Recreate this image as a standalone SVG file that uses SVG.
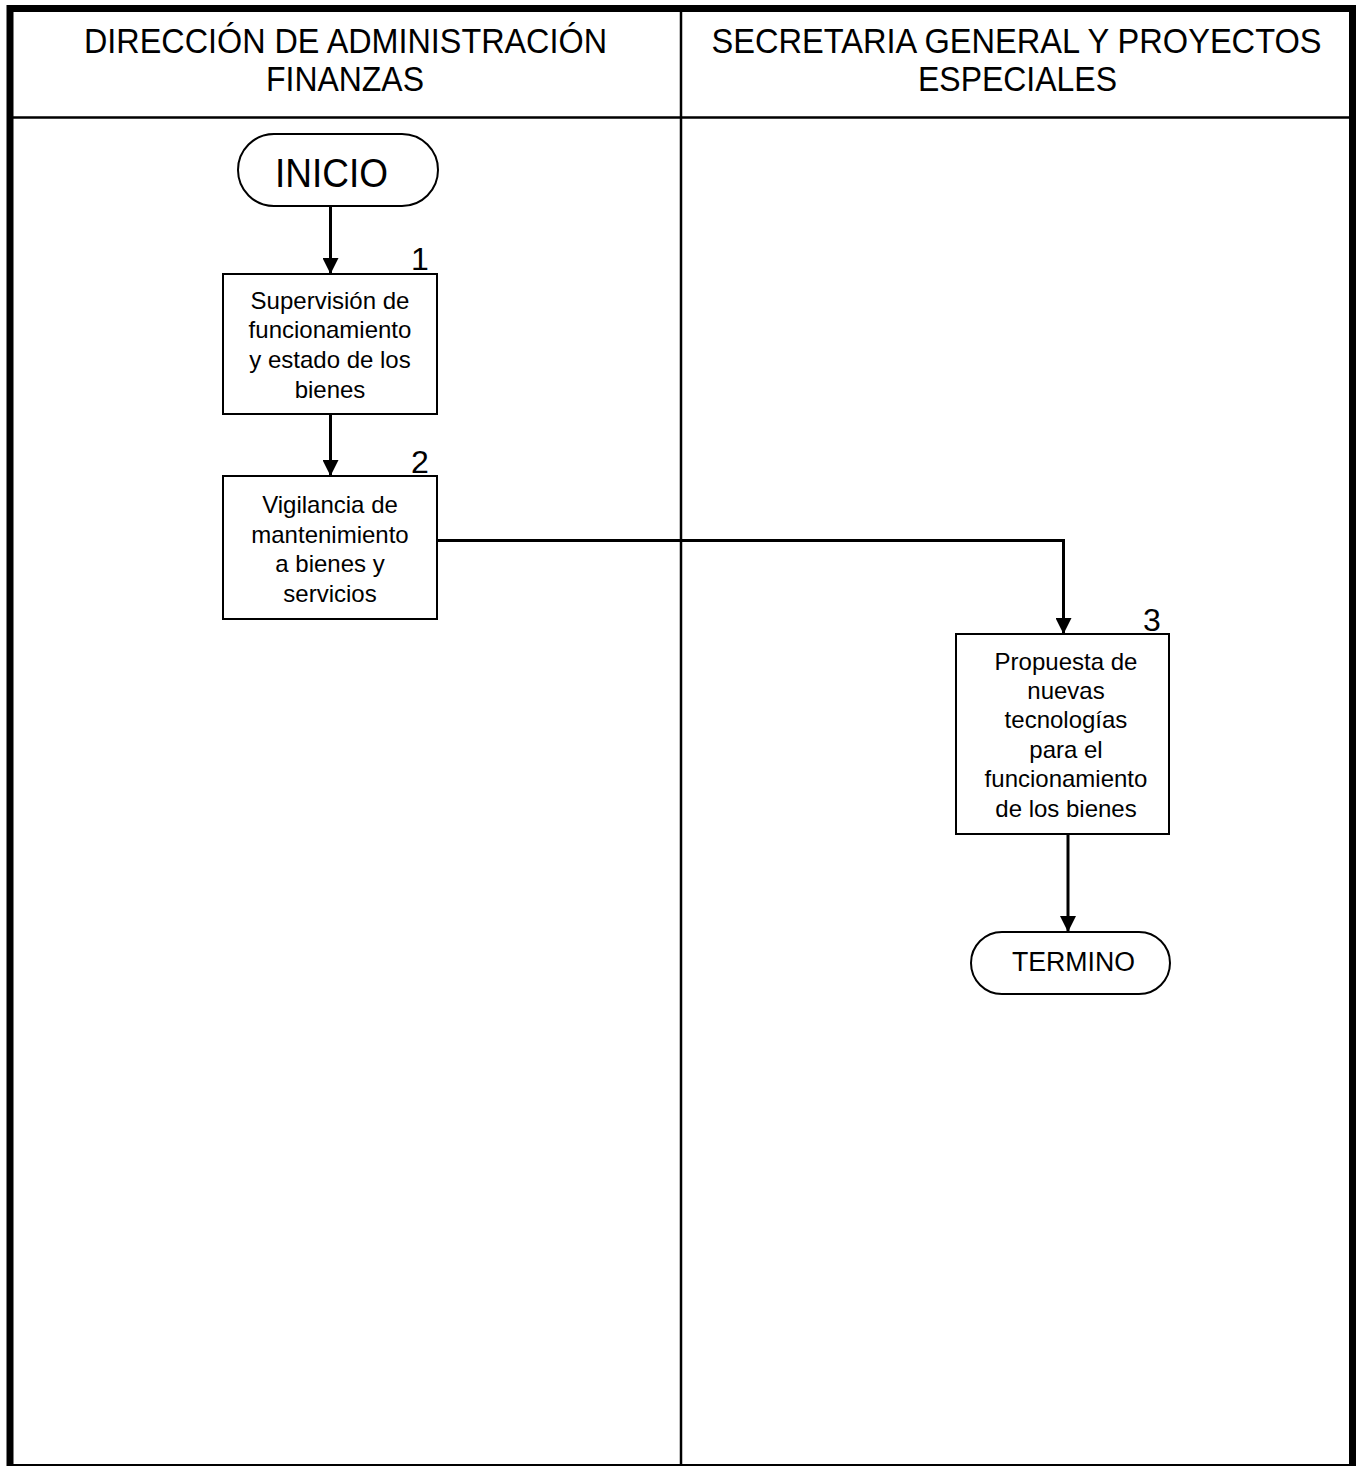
<svg xmlns="http://www.w3.org/2000/svg" width="1357" height="1466" viewBox="0 0 1357 1466">
  <style>
    .frame { fill: none; stroke: #000; }
    .box { fill: #fff; stroke: #000; stroke-width: 2; }
    .lbl { font-family: "Liberation Sans", Arial, sans-serif; fill: #000; text-anchor: middle; }
    .head { font-size: 35px; }
    .body { font-size: 24px; }
    .num { font-size: 32px; }
    .conn { fill: none; stroke: #000; stroke-width: 3; }
  </style>
  <defs>
    <marker id="arrow" markerUnits="userSpaceOnUse" markerWidth="16" markerHeight="16" viewBox="0 0 16 16" refX="16" refY="8" orient="auto">
      <path d="M0,0 L16,8 L0,16 Z" fill="#000"/>
    </marker>
  </defs>
  <rect width="1357" height="1466" fill="#fff"/>

  <!-- swimlane frame -->
  <g id="lanes">
    <rect class="frame" x="10" y="8.5" width="1342.5" height="1459" stroke-width="7"/>
    <line class="frame" x1="10" y1="117.5" x2="1352" y2="117.5" stroke-width="2.5"/>
    <line class="frame" x1="681" y1="8" x2="681" y2="1466" stroke-width="2.5"/>
    <text class="lbl head" x="345.5" y="53" textLength="523" lengthAdjust="spacingAndGlyphs">DIRECCIÓN DE ADMINISTRACIÓN</text>
    <text class="lbl head" x="345" y="91" textLength="158" lengthAdjust="spacingAndGlyphs">FINANZAS</text>
    <text class="lbl head" x="1016.5" y="53" textLength="610" lengthAdjust="spacingAndGlyphs">SECRETARIA GENERAL Y PROYECTOS</text>
    <text class="lbl head" x="1017.5" y="91" textLength="199" lengthAdjust="spacingAndGlyphs">ESPECIALES</text>
  </g>

  <!-- connectors -->
  <g id="connectors">
    <line class="conn" x1="330.5" y1="206" x2="330.5" y2="274" marker-end="url(#arrow)"/>
    <line class="conn" x1="330.5" y1="414" x2="330.5" y2="476" marker-end="url(#arrow)"/>
    <path class="conn" d="M437,540.5 H1063.5 V634" stroke-width="2.5" marker-end="url(#arrow)"/>
    <line class="conn" x1="1068" y1="834" x2="1068" y2="932" marker-end="url(#arrow)"/>
  </g>

  <g id="inicio">
    <rect class="box" x="238" y="134" width="200" height="72" rx="36" ry="36"/>
    <text class="lbl" x="331.5" y="187" font-size="40" textLength="113" lengthAdjust="spacingAndGlyphs">INICIO</text>
  </g>

  <g id="step1">
    <rect class="box" x="223" y="274" width="214" height="140"/>
    <text class="lbl num" x="420" y="270">1</text>
    <text class="lbl body" x="330" y="309">Supervisión de</text>
    <text class="lbl body" x="330" y="338">funcionamiento</text>
    <text class="lbl body" x="330" y="368">y estado de los</text>
    <text class="lbl body" x="330" y="398">bienes</text>
  </g>

  <g id="step2">
    <rect class="box" x="223" y="476" width="214" height="143"/>
    <text class="lbl num" x="420" y="473">2</text>
    <text class="lbl body" x="330" y="513">Vigilancia de</text>
    <text class="lbl body" x="330" y="543">mantenimiento</text>
    <text class="lbl body" x="330" y="572">a bienes y</text>
    <text class="lbl body" x="330" y="602">servicios</text>
  </g>

  <g id="step3">
    <rect class="box" x="956" y="634" width="213" height="200"/>
    <text class="lbl num" x="1152" y="631">3</text>
    <text class="lbl body" x="1066" y="670">Propuesta de</text>
    <text class="lbl body" x="1066" y="699">nuevas</text>
    <text class="lbl body" x="1066" y="728">tecnologías</text>
    <text class="lbl body" x="1066" y="758">para el</text>
    <text class="lbl body" x="1066" y="787">funcionamiento</text>
    <text class="lbl body" x="1066" y="817">de los bienes</text>
  </g>

  <g id="termino">
    <rect class="box" x="971" y="932" width="199" height="62" rx="31" ry="31"/>
    <text class="lbl" x="1073.5" y="971" font-size="27" textLength="123" lengthAdjust="spacingAndGlyphs">TERMINO</text>
  </g>
</svg>
